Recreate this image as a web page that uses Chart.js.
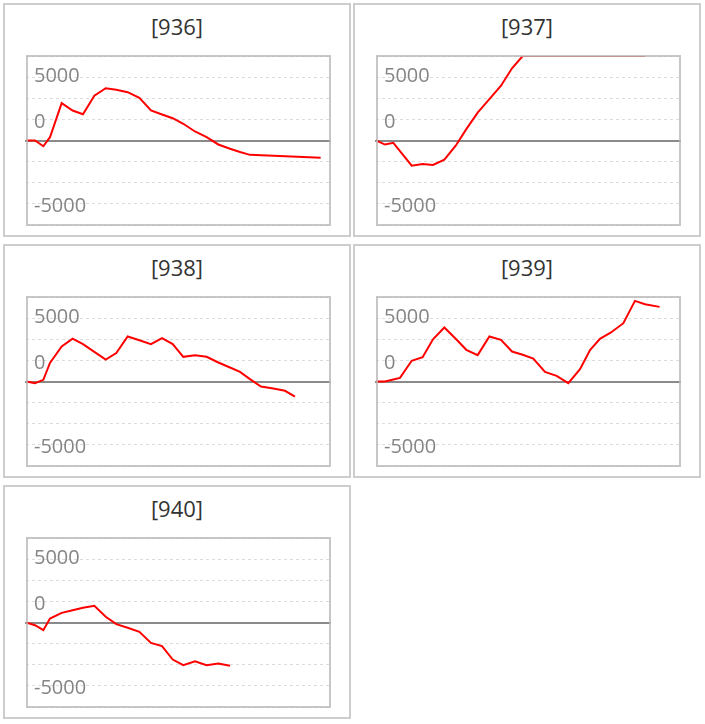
<!DOCTYPE html>
<html>
<head>
<meta charset="utf-8">
<script src="https://cdn.jsdelivr.net/npm/chart.js@4/dist/chart.umd.min.js"></script>
<style>
  html, body { margin: 0; padding: 0; background: #fff; }
  body { width: 705px; height: 724px; position: relative; overflow: hidden; font-family: "Open Sans", sans-serif; }
  .panel { position: absolute; box-sizing: border-box; width: 348px; height: 234px; border: 2px solid #cdcdcd; }
  .title { position: absolute; width: 348px; height: 28px; line-height: 28px; text-align: center; font-size: 22px; color: #333; }
  canvas { position: absolute; }
</style>
</head>
<body>
<script>
// ---- data ----
const panelIds = ["[936]", "[937]", "[938]", "[939]", "[940]"];

// shared x positions (time-like units; axis runs 0..27)
const xPositions = [0, 0.80, 1.54, 2.13, 3.17, 4.14, 5.06, 6.07, 7.08, 8.02, 9.03, 10.07, 11.10, 12.08,
                    13.03, 13.97, 15.01, 16.04, 17.08, 18.12, 19.01, 19.89, 20.87, 21.97, 23.00, 23.89, 25.19, 26.17];

const s936 = [0, 0, -680, 390, 4430, 3550, 3100, 5300, 6190, 6000, 5720, 5050, 3550, 3080,
              2640, 1980, 1065, 395, -470, -970, -1360, -1700, null, null, null, null, null, -2040];
const s937 = [0, -480, -270, -1260, -2980, -2790, -2890, -2260, -620, 1350, 3300, 4900, 6480, 8540,
              10000, 10000, 10000, 10000, 10000, 10000, 10000, 10000, 10000, 10000, 10000, 10000, null, null];
const s938 = [0, -190, 200, 2200, 4150, 5080, 4420, 3510, 2600, 3360, 5330, 4890, 4420, 5130,
              4420, 2920, 3120, 2920, 2250, 1660, 1140, 280, -590, -830, -1100, -1780, null, null];
const s939 = [0, 0, 240, 430, 2450, 2880, 5000, 6390, 5050, 3750, 3120, 5330, 4930, 3550,
              3160, 2720, 1140, 670, -200, 1460, 3710, 5050, 5800, 6900, 9540, 9150, 8830, null];
const s940 = [0, -320, -910, 470, 1140, 1460, 1740, 1970, 670, -200, -630, -1100, -2410, -2800,
              -4380, -5050, -4580, -5050, -4850, -5130, null, null, null, null, null, null, null, null];
const seriesList = [s936, s937, s938, s939, s940];

// y axis: gridlines every 2500; the printed labels sit where the reference shows them
const yLabelAt = [7650, 2100, -7750];
const yLabelText = ["5000", "0", "-5000"];

// ---- drawing ----
const plotBox = {
  id: "plotBox",
  afterDatasetsDraw(chart) {
    const a = chart.chartArea, ctx = chart.ctx;
    ctx.save();
    ctx.strokeStyle = "rgba(185,185,185,0.8)";
    ctx.lineWidth = 2;
    ctx.strokeRect(a.left + 1, a.top, a.right - a.left - 1, a.bottom - a.top);
    ctx.restore();
  }
};

const zeroWidth = (s) => { s.width = 0; s.paddingTop = 0; s.paddingBottom = 0; };

panelIds.forEach((id, i) => {
  const col = i % 2, row = Math.floor(i / 2);
  const panelLeft = 3 + 350 * col, panelTop = 3 + 241 * row;
  const plotLeft = 26 + 350 * col, plotTop = 56 + 241 * row;
  const PAD = 4, W = 304, H = 169;

  const panel = document.createElement("div");
  panel.className = "panel";
  panel.style.left = panelLeft + "px";
  panel.style.top = panelTop + "px";
  document.body.appendChild(panel);

  const title = document.createElement("div");
  title.className = "title";
  title.textContent = id;
  title.style.left = panelLeft + "px";
  title.style.top = (panelTop + 9) + "px";
  document.body.appendChild(title);

  const cv = document.createElement("canvas");
  cv.width = W + 2 * PAD; cv.height = H + 2 * PAD;
  cv.style.width = cv.width + "px"; cv.style.height = cv.height + "px";
  cv.style.left = (plotLeft - PAD) + "px";
  cv.style.top = (plotTop - PAD) + "px";
  document.body.appendChild(cv);

  const vals = seriesList[i];
  new Chart(cv, {
    type: "line",
    data: {
      datasets: [{
        data: xPositions.map((x, k) => ({ x: x, y: vals[k] })),
        borderColor: "#ff0000",
        borderWidth: 2,
        pointRadius: 0,
        tension: 0,
        fill: false,
        spanGaps: true
      }]
    },
    options: {
      responsive: false,
      animation: false,
      devicePixelRatio: 1,
      layout: { padding: PAD },
      plugins: { legend: { display: false }, tooltip: { enabled: false } },
      scales: {
        x: {
          type: "linear", min: 0, max: 27,
          position: { y: 0 },
          ticks: { display: false },
          grid: { display: true, color: "rgba(0,0,0,0)", drawTicks: false },
          border: { display: true, color: "#8a8a8a", width: 2 }
        },
        y: {
          type: "linear", min: -10000, max: 10000, position: "left",
          ticks: { stepSize: 2500, autoSkip: false, display: false },
          grid: {
            drawTicks: false, lineWidth: 1,
            color: (c) => (c.tick && c.tick.value === 0) ? "rgba(0,0,0,0)" : "#dcdcdc"
          },
          border: { display: false, dash: [3, 3] },
          afterFit: zeroWidth
        },
        yText: {
          type: "linear", axis: "y", min: -10000, max: 10000, position: "left",
          afterBuildTicks: (s) => { s.ticks = yLabelAt.map(v => ({ value: v })); },
          ticks: {
            autoSkip: false, mirror: true, padding: 8,
            color: "#858585", font: { family: "Open Sans", size: 20 },
            callback: (v) => { const k = yLabelAt.indexOf(v); return k >= 0 ? yLabelText[k] : ""; }
          },
          grid: { display: false, drawTicks: false },
          border: { display: false },
          afterFit: zeroWidth
        }
      }
    },
    plugins: [plotBox]
  });
});
</script>
</body>
</html>
